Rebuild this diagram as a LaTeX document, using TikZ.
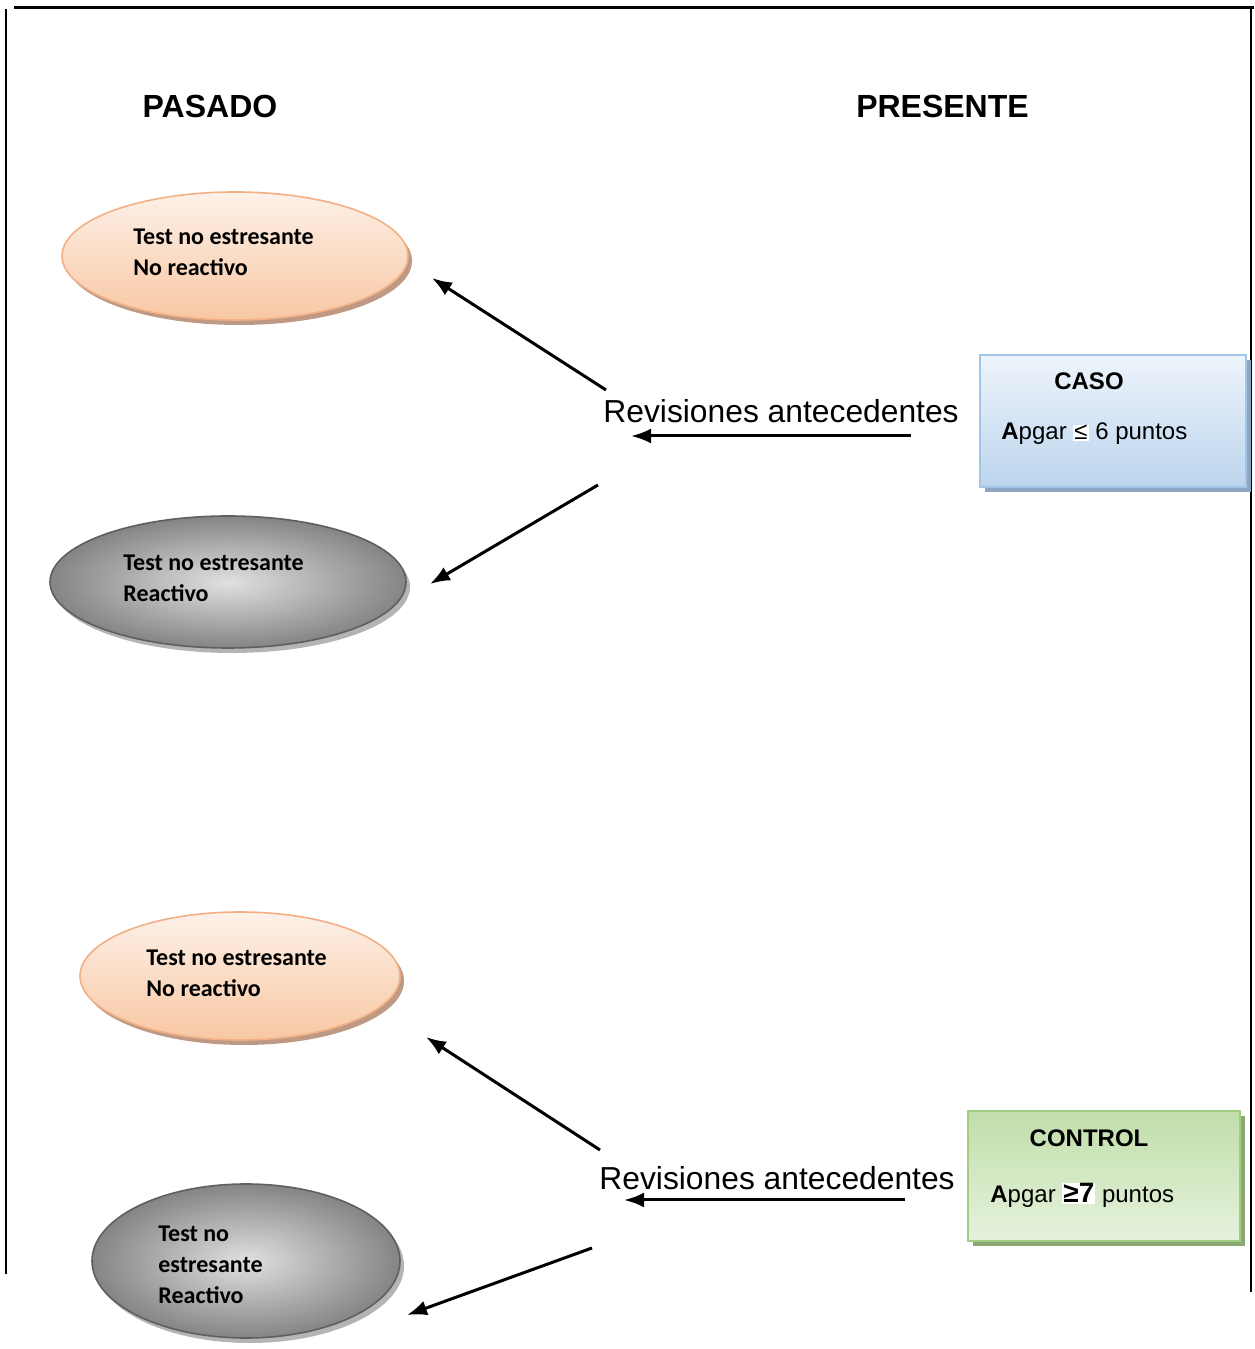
\documentclass[tikz,border=0pt]{standalone}
\usepackage{fontspec}
\setmainfont{Liberation Sans}
\newfontfamily\calibri{Carlito}
\usetikzlibrary{shapes.geometric,shadows,arrows.meta}

\definecolor{orangeTop}{HTML}{FDF1E8}
\definecolor{orangeBot}{HTML}{F8C7A3}
\definecolor{orangeLine}{HTML}{F2B084}
\definecolor{orangeShadow}{HTML}{BE9A84}
\definecolor{grayLine}{HTML}{5F5F5F}
\definecolor{grayShadow}{HTML}{B4B4B4}
\definecolor{blueTop}{HTML}{EEF4FB}
\definecolor{blueBot}{HTML}{BCD5EE}
\definecolor{blueLine}{HTML}{A3C5E8}
\definecolor{blueShadow}{HTML}{8CA6C4}
\definecolor{greenTop}{HTML}{C1DEAA}
\definecolor{greenBot}{HTML}{E6F2DD}
\definecolor{greenLine}{HTML}{A0CD80}
\definecolor{greenShadow}{HTML}{8AA874}

\begin{document}
\begin{tikzpicture}

  \tikzset{
    pasado/.style={
      ellipse,
      line width=0.8pt,
      drop shadow={shadow xshift=2pt, shadow yshift=-2.5pt, opacity=1, fill=#1}
    },
    noreact/.style={
      pasado=orangeShadow,
      draw=orangeLine,
      top color=orangeTop,
      bottom color=orangeBot
    },
    react/.style={
      pasado=grayShadow,
      draw=grayLine,
      shading=radial,
      inner color=black!12,
      outer color=black!48
    },
    grupo/.style={
      rectangle,
      line width=1pt,
      drop shadow={shadow xshift=2.5pt, shadow yshift=-2.5pt, opacity=1, fill=#1}
    },
    etiqueta/.style={
      inner sep=0pt,
      align=left,
      font=\calibri\bfseries\fontsize{12}{15.5}\selectfont
    },
    titulo/.style={
      inner sep=0pt,
      font=\bfseries\fontsize{16}{16}\selectfont
    },
    flecha/.style={
      -{Latex[length=10pt, width=7.5pt]},
      line width=1.5pt
    }
  }

  \useasboundingbox (0pt, 0pt) rectangle (627pt, 674.5pt);

  \draw[line width=1.2pt] (7pt, 670.75pt) -- (627pt, 670.75pt);
  \draw[line width=1pt] (2.75pt, 670pt) -- (2.75pt, 37.5pt);
  \draw[line width=1pt] (625.5pt, 670pt) -- (625.5pt, 28.5pt);

  \node[titulo, anchor=base] (pasado) at (105pt, 615.5pt) {PASADO};
  \node[titulo, anchor=base] (presente) at (471.25pt, 615.5pt) {PRESENTE};

  \node[noreact, minimum width=173pt, minimum height=64pt] (e1) at (117.5pt, 546.5pt) {};
  \node[react, minimum width=178pt, minimum height=66pt] (e2) at (114pt, 383.5pt) {};
  \node[noreact, minimum width=160pt, minimum height=64pt] (e3) at (120pt, 186.5pt) {};
  \node[react, minimum width=154pt, minimum height=77pt] (e4) at (123pt, 44pt) {};

  \node[etiqueta, anchor=west] (t1) at (66.5pt, 548.25pt) {Test no estresante\\No reactivo};
  \node[etiqueta, anchor=west] (t2) at (61.5pt, 385.25pt) {Test no estresante\\Reactivo};
  \node[etiqueta, anchor=west] (t3) at (73pt, 187.75pt) {Test no estresante\\No reactivo};
  \node[etiqueta, anchor=west] (t4) at (79pt, 42.25pt) {Test no\\estresante\\Reactivo};

  \node[grupo=blueShadow, draw=blueLine, top color=blueTop, bottom color=blueBot,
        minimum width=133pt, minimum height=66pt] (caso) at (556.5pt, 464pt) {};
  \node[grupo=greenShadow, draw=greenLine, top color=greenTop, bottom color=greenBot,
        minimum width=136pt, minimum height=65pt] (control) at (552pt, 86.5pt) {};

  \node[inner sep=0pt, anchor=base, font=\bfseries\fontsize{12}{12}\selectfont] (casotit) at (544.5pt, 479.75pt) {CASO};
  \node[inner sep=0pt, anchor=base west, font=\fontsize{12}{12}\selectfont] (casotxt) at (500.5pt, 454.5pt)
    {\textbf{A}pgar {\fboxsep=0.5pt\colorbox{white}{≤}} 6 puntos};
  \node[inner sep=0pt, anchor=base, font=\bfseries\fontsize{12}{12}\selectfont] (controltit) at (544.5pt, 101pt) {CONTROL};
  \node[inner sep=0pt, anchor=base west, font=\fontsize{12}{12}\selectfont] (controltxt) at (495pt, 73pt)
    {\textbf{A}pgar {\fboxsep=0.5pt\colorbox{white}{\bfseries\fontsize{14}{14}\selectfont ≥7}} puntos};

  \node[inner sep=0pt, anchor=base west, font=\fontsize{15.9}{16}\selectfont] (rev1) at (301.5pt, 463pt) {Revisiones antecedentes};
  \node[inner sep=0pt, anchor=base west, font=\fontsize{15.9}{16}\selectfont] (rev2) at (299.5pt, 79.5pt) {Revisiones antecedentes};

  \coordinate (a1s) at (303pt, 479.5pt);
  \coordinate (a1e) at (216pt, 535.5pt);
  \coordinate (a2s) at (299pt, 432pt);
  \coordinate (a2e) at (215pt, 382.5pt);
  \coordinate (a3s) at (455.5pt, 456.5pt);
  \coordinate (a3e) at (315.5pt, 456.5pt);
  \coordinate (b1s) at (300pt, 99.5pt);
  \coordinate (b1e) at (213pt, 156pt);
  \coordinate (b2s) at (296pt, 50.5pt);
  \coordinate (b2e) at (203.5pt, 17pt);
  \coordinate (b3s) at (452.5pt, 74.5pt);
  \coordinate (b3e) at (312pt, 74.5pt);

  \draw[flecha] (a1s) -- (a1e);
  \draw[flecha] (a2s) -- (a2e);
  \draw[flecha] (a3s) -- (a3e);
  \draw[flecha] (b1s) -- (b1e);
  \draw[flecha] (b2s) -- (b2e);
  \draw[flecha] (b3s) -- (b3e);

\end{tikzpicture}
\end{document}
